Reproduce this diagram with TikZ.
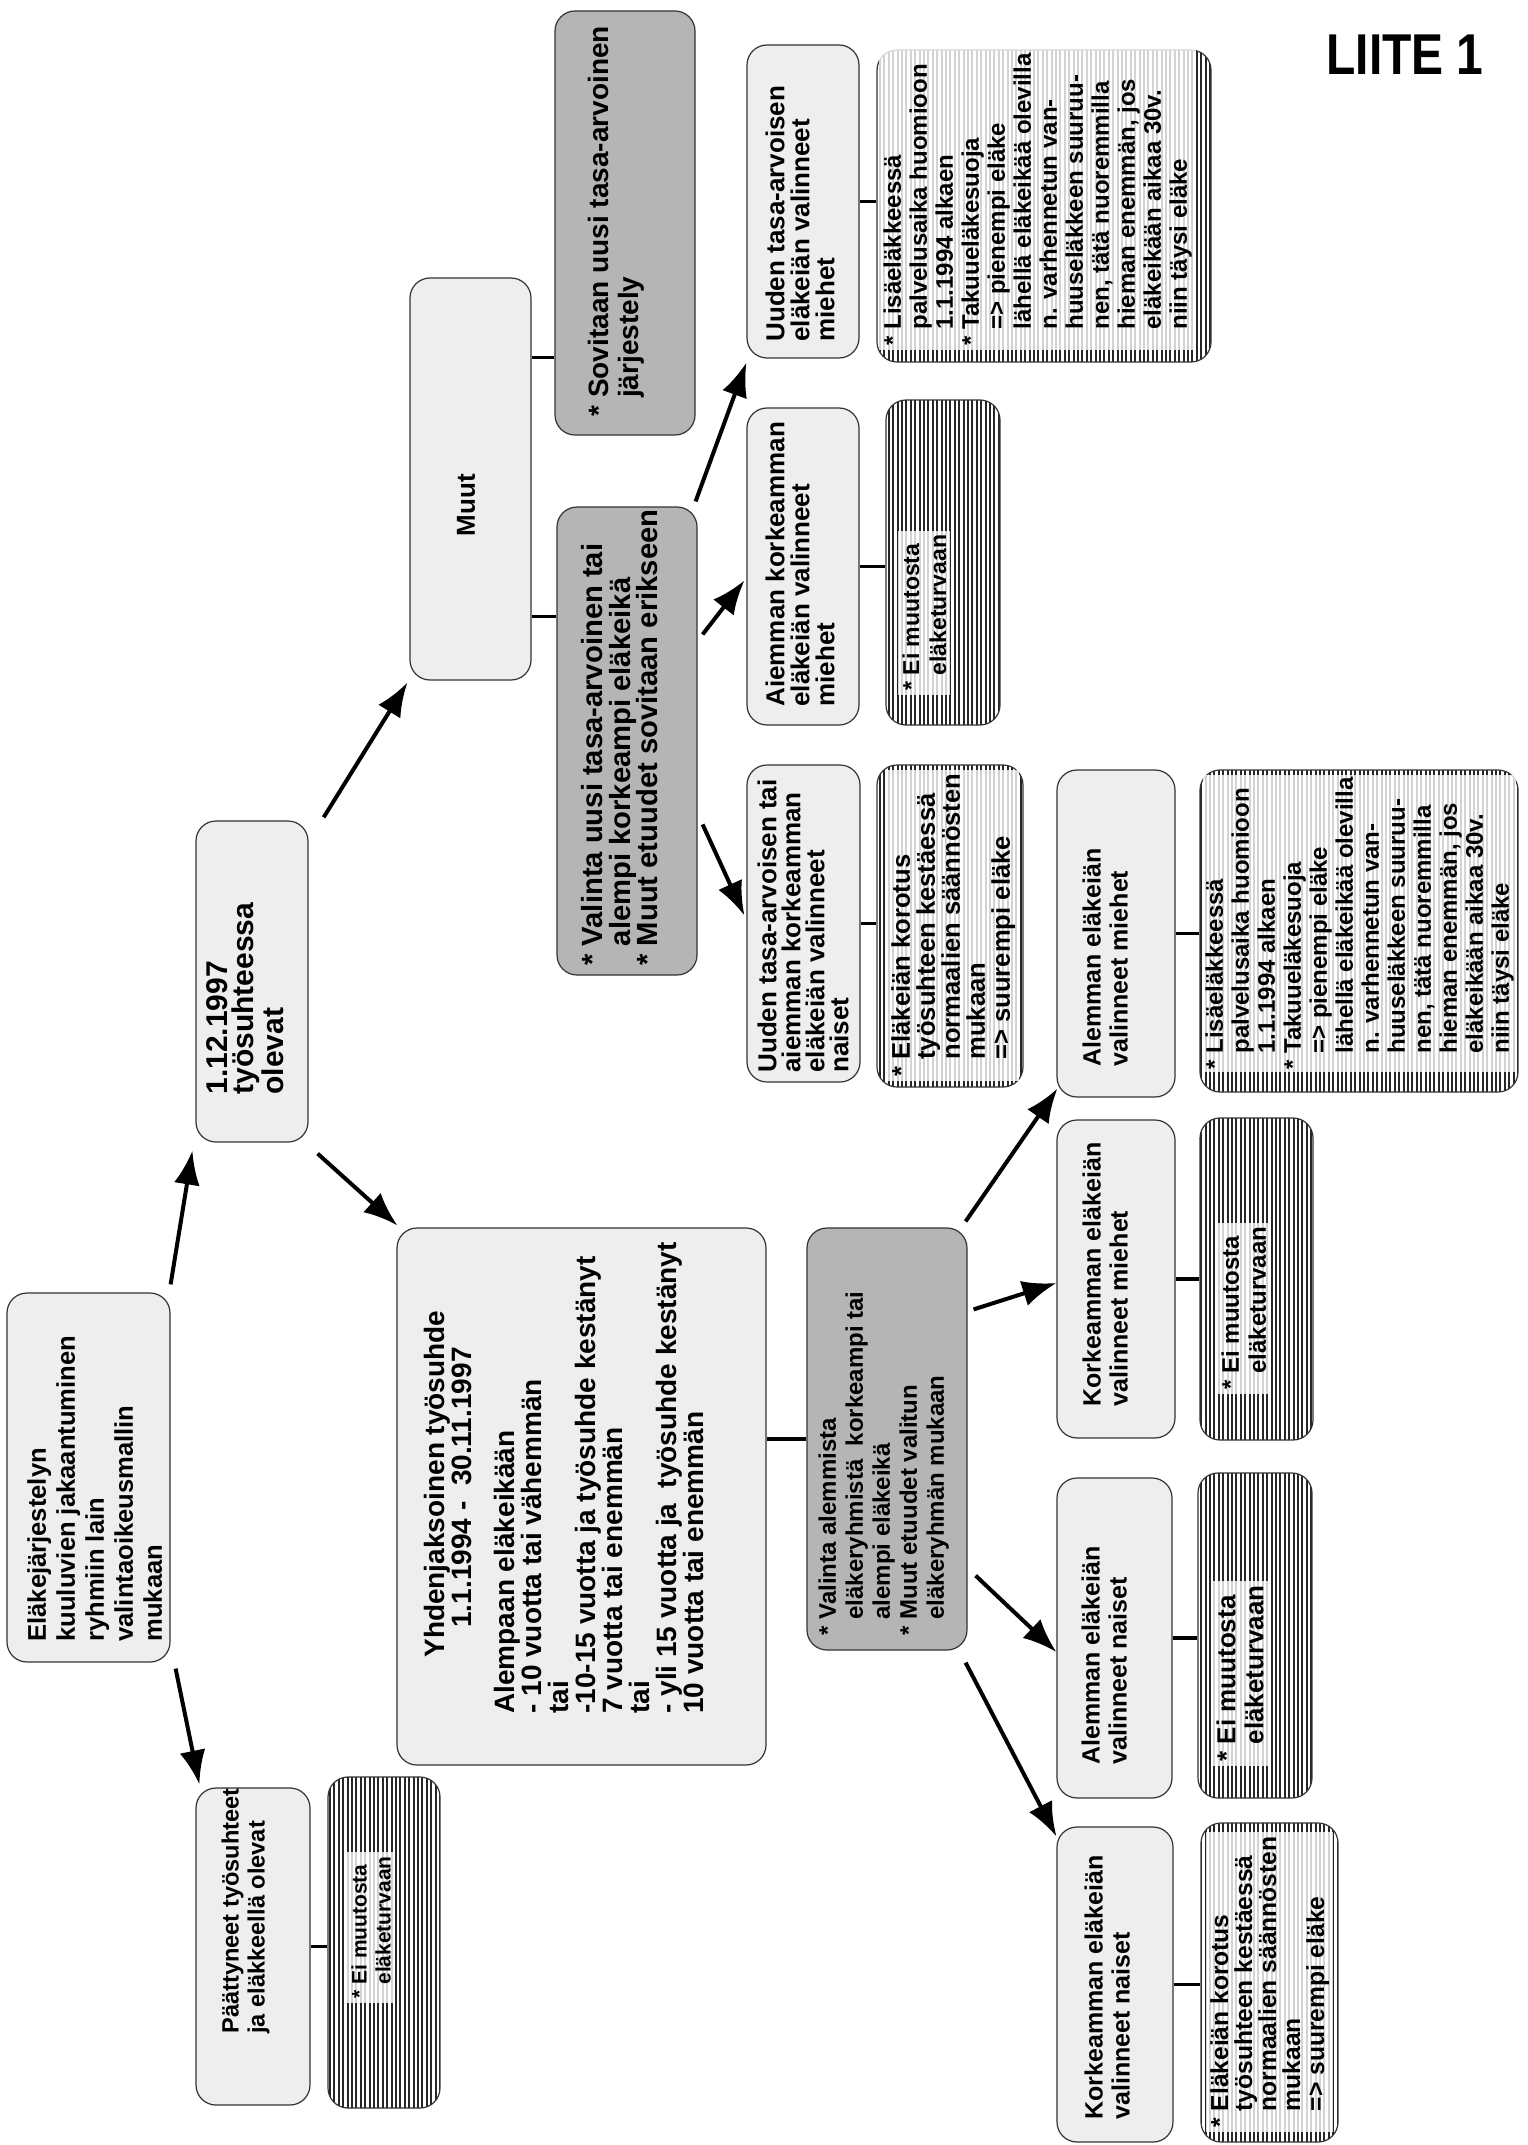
\documentclass[tikz,border=0pt]{standalone}
\usepackage{fontspec}
\setmainfont{Liberation Sans}
\usetikzlibrary{arrows.meta,calc,patterns.meta}
\newcommand\myfs[2]{\fontsize{#1}{#2}\selectfont\bfseries}
\newcommand\hind{\hphantom{*\ }}
\newcommand\mybx[6]{\node[#2, minimum width={(#5-#3)*0.5pt}, minimum height={(#6-#4)*0.5pt}] (#1) at ({(#3+#5)/2},{(#4+#6)/2}) {};}
\tikzset{
  lbox/.style={draw=black!80, line width=0.6pt, rounded corners=10pt, fill=gray!13, inner sep=0pt},
  dbox/.style={lbox, fill=gray!58},
  ibox/.style={draw=black!80, line width=0.6pt, rounded corners=10pt, inner sep=0pt,
    pattern={Lines[angle=90,distance=2.2pt,line width=1pt]}, pattern color=black!85},
  txt/.style={rotate=90, anchor=north west, align=left, inner sep=0pt},
  itxt/.style={txt, fill=white, fill opacity=0.8, text opacity=1, inner sep=2pt},
  arr/.style={line width=2pt, -{Latex[length=17pt,width=13pt]}},
  con/.style={line width=1.8pt}
}
\begin{document}
\begin{tikzpicture}[x=0.5pt,y=-0.5pt]
\fill[white] (0,0) rectangle (1527,2145);
\useasboundingbox (0,0) rectangle (1527,2145);

\node[font=\myfs{24}{24}, yscale=1.2] (liite) at (1405,55) {LIITE 1};

% boxes
\mybx{R}{lbox}{7}{1293}{170}{1662}
\mybx{P}{lbox}{196}{1788}{310}{2105}
\mybx{PI}{ibox}{328}{1777}{440}{2108}
\mybx{T}{lbox}{196}{821}{308}{1142}
\mybx{Y}{lbox}{397}{1228}{766}{1765}
\mybx{D1}{dbox}{807}{1228}{967}{1650}
\mybx{M}{lbox}{410}{278}{531}{680}
\mybx{S}{dbox}{555}{11}{695}{435}
\mybx{V2}{dbox}{557}{507}{697}{975}
\mybx{UM}{lbox}{747}{45}{859}{358}
\mybx{AKM}{lbox}{747}{408}{859}{725}
\mybx{UN}{lbox}{747}{765}{860}{1082}
\mybx{UMI}{ibox}{877}{50}{1211}{362}
\mybx{AKMI}{ibox}{886}{400}{1000}{725}
\mybx{UNI}{ibox}{877}{765}{1023}{1087}
\mybx{AM}{lbox}{1057}{770}{1175}{1097}
\mybx{KM}{lbox}{1057}{1120}{1175}{1438}
\mybx{AN}{lbox}{1057}{1478}{1172}{1798}
\mybx{KN}{lbox}{1057}{1827}{1173}{2142}
\mybx{AMI}{ibox}{1200}{770}{1518}{1092}
\mybx{KMI}{ibox}{1200}{1118}{1313}{1440}
\mybx{ANI}{ibox}{1198}{1473}{1312}{1798}
\mybx{KNI}{ibox}{1201}{1823}{1338}{2142}

% texts
\node[txt, font=\myfs{12.8}{14.5}] (Rt) at (27,1642) {Eläkejärjestelyn\\kuuluvien jakaantuminen\\ryhmiin lain\\valintaoikeusmallin\\mukaan};
\node[txt, font=\myfs{11.8}{13}] (Pt) at (221,2034) {Päättyneet työsuhteet\\ja eläkkeellä olevat};
\node[itxt, font=\myfs{10.5}{12}] (PIt) at (347,2003) {* Ei muutosta\\\hind eläketurvaan};
\node[txt, font=\myfs{15}{13}] (Tt) at (206,1095) {1.12.1997\\työsuhteessa\\olevat};
\node[txt, font=\myfs{14}{13.5}] (Yt) at (424,1714) {\hspace*{28pt}Yhdenjaksoinen työsuhde\\\hspace*{43pt}1.1.1994 -\ \ 30.11.1997\\[8pt]Alempaan eläkeikään\\- 10 vuotta tai vähemmän\\tai\\-10-15 vuotta ja työsuhde kestänyt\\7 vuotta tai enemmän\\tai\\- yli 15 vuotta ja\ \ työsuhde kestänyt\\10 vuotta tai enemmän};
\node[txt, font=\myfs{12}{13.5}] (D1t) at (818,1636) {* Valinta alemmista\\\hind eläkeryhmistä\ \ korkeampi tai\\\hind alempi eläkeikä\\* Muut etuudet valitun\\\hind eläkeryhmän mukaan};
\node[rotate=90, font=\myfs{13}{13.5}, inner sep=0pt] (Mt) at (466,505) {Muut};
\node[txt, font=\myfs{14}{15}] (St) at (588,417) {* Sovitaan uusi tasa-arvoinen\\\hind järjestely};
\node[txt, font=\myfs{14.6}{13.75}] (V2t) at (581,966) {* Valinta uusi tasa-arvoinen tai\\\hind alempi korkeampi eläkeikä\\* Muut etuudet sovitaan erikseen};
\node[txt, font=\myfs{13}{12.5}] (UMt) at (765,342) {Uuden tasa-arvoisen\\eläkeiän valinneet\\miehet};
\node[txt, font=\myfs{13}{12.5}] (AKMt) at (765,707) {Aiemman korkeamman\\eläkeiän valinneet\\miehet};
\node[txt, font=\myfs{13}{12}] (UNt) at (757,1073) {Uuden tasa-arvoisen tai\\aiemman korkeamman\\eläkeiän valinneet\\naiset};
\node[itxt, font=\myfs{12}{13}] (UMIt) at (879,350) {* Lisäeläkkeessä\\\hind palvelusaika huomioon\\\hind 1.1.1994 alkaen\\* Takuueläkesuoja\\\hind => pienempi eläke\\\hind lähellä eläkeikää olevilla\\\hind n. varhennetun van-\\\hind huuseläkkeen suuruu-\\\hind nen, tätä nuoremmilla\\\hind hieman enemmän, jos\\\hind eläkeikään aikaa 30v.\\\hind niin täysi eläke};
\node[itxt, font=\myfs{11.5}{13.5}] (AKMIt) at (898,695) {* Ei muutosta\\\hind eläketurvaan};
\node[itxt, font=\myfs{12.8}{12.5}] (UNIt) at (887,1081) {* Eläkeiän korotus\\\hind työsuhteen kestäessä\\\hind normaalien säännösten\\\hind mukaan\\\hind => suurempi eläke};
\node[txt, font=\myfs{12.5}{13.5}] (AMt) at (1082,1067) {Alemman eläkeiän\\valinneet miehet};
\node[txt, font=\myfs{12.5}{13.5}] (KMt) at (1082,1407) {Korkeamman eläkeiän\\valinneet miehet};
\node[txt, font=\myfs{12.5}{13.5}] (ANt) at (1081,1765) {Alemman eläkeiän\\valinneet naiset};
\node[txt, font=\myfs{12.5}{13.5}] (KNt) at (1084,2120) {Korkeamman eläkeiän\\valinneet naiset};
\node[itxt, font=\myfs{12}{13}, inner sep=1pt] (AMIt) at (1203,1072) {* Lisäeläkkeessä\\\hind palvelusaika huomioon\\\hind 1.1.1994 alkaen\\* Takuueläkesuoja\\\hind => pienempi eläke\\\hind lähellä eläkeikää olevilla\\\hind n. varhennetun van-\\\hind huuseläkkeen suuruu-\\\hind nen, tätä nuoremmilla\\\hind hieman enemmän, jos\\\hind eläkeikään aikaa 30v.\\\hind niin täysi eläke};
\node[itxt, font=\myfs{12}{13.5}] (KMIt) at (1217,1394) {* Ei muutosta\\\hind eläketurvaan};
\node[itxt, font=\myfs{13}{14}] (ANIt) at (1212,1766) {* Ei muutosta\\\hind eläketurvaan};
\node[itxt, font=\myfs{12.3}{12}] (KNIt) at (1206,2132) {* Eläkeiän korotus\\\hind työsuhteen kestäessä\\\hind normaalien säännösten\\\hind mukaan\\\hind => suurempi eläke};

% arrows
\draw[arr] ($(R.north east)+(0,-8)$) -- ($(T.south west)+(-3,8)$);
\draw[arr] ($(R.south east)+(5,6)$) -- ($(P.north west)+(4,-3)$);
\draw[arr] ($(T.south east)+(9,11)$) -- ($(Y.north west)+(1,-2)$);
\draw[arr] ($(T.north east)+(15,-3)$) -- ($(M.south west)+(-2,2)$);
\draw[arr] ($(D1.north east)+(-2,-6)$) -- ($(AM.south west)+(1,-9)$);
\draw[arr] ($(D1.north east)+(6,82)$) -- ($(KM.west)+(0,4)$);
\draw[arr] ($(D1.south east)+(8,-75)$) -- ($(AN.west)+(0,14)$);
\draw[arr] ($(D1.south east)+(-2,12)$) -- ($(KN.north west)+(0,10)$);
\draw[arr] ($(V2.north east)+(-2,-5)$) -- ($(UM.south west)+(0,4)$);
\draw[arr] ($(V2.north east)+(5,128)$) -- ($(AKM.west)+(-2,14)$);
\draw[arr] ($(V2.north east)+(5,318)$) -- ($(UN.west)+(-2,-8)$);

% connectors
\coordinate (m1) at ($(M.north east)+(0,80)$);
\coordinate (m2) at ($(M.north east)+(0,339)$);
\draw[con] (m1) -- (m1 -| S.west);
\draw[con] (m2) -- (m2 -| V2.west);
\draw[con] (P.east) -- (P.east -| PI.west);
\draw[con] (D1.west -| Y.east) -- (D1.west);
\draw[con] (UM.east) -- (UM.east -| UMI.west);
\draw[con] (AKM.east) -- (AKM.east -| AKMI.west);
\draw[con] (UN.east) -- (UN.east -| UNI.west);
\draw[con] (AM.east) -- (AM.east -| AMI.west);
\draw[con] (KM.east) -- (KM.east -| KMI.west);
\draw[con] (AN.east) -- (AN.east -| ANI.west);
\draw[con] (KN.east) -- (KN.east -| KNI.west);
\end{tikzpicture}
\end{document}
